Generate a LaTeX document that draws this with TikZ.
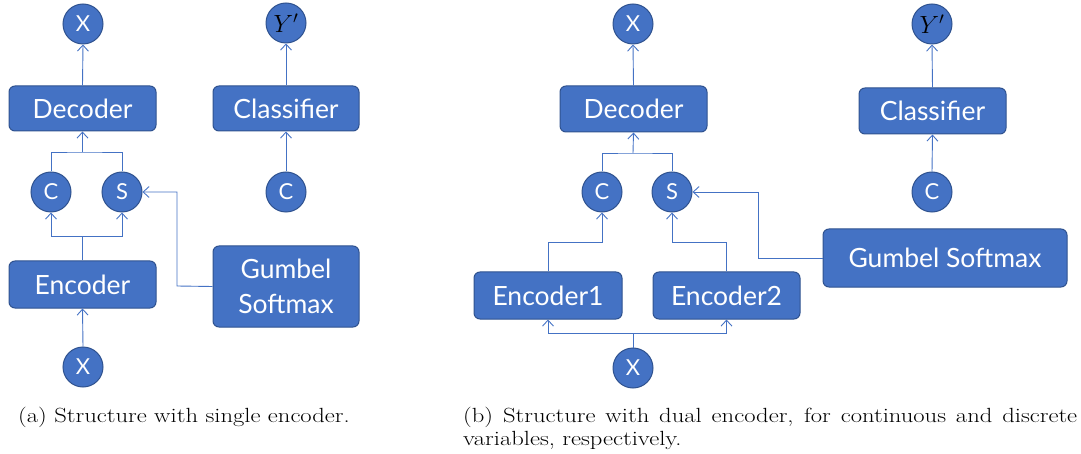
\documentclass[tikz,border=0pt]{standalone}
\usepackage{fontspec}
\newfontfamily\nodefont{Lato}
\usetikzlibrary{arrows.meta,positioning}
\definecolor{boxblue}{HTML}{4472C4}
\definecolor{boxedge}{HTML}{2F528F}
\definecolor{lineblue}{HTML}{4472C4}
\tikzset{
  box/.style={draw=boxedge,fill=boxblue,rounded corners=6pt,line width=1pt,text=white,
    font=\nodefont\fontsize{26.5}{35}\selectfont,inner sep=0pt,align=center},
  var/.style={circle,draw=boxedge,fill=boxblue,line width=1pt,minimum size=40pt,inner sep=0pt,text=white,
    font=\nodefont\fontsize{22}{24}\selectfont},
  conn/.style={draw=lineblue,line width=0.9pt},
  arr/.style={conn,-{Straight Barb[length=6pt,width=11pt,line width=0.9pt]}},
  captext/.style={font=\fontsize{20.5}{23}\selectfont,inner sep=0pt}
}
\begin{document}
\begin{tikzpicture}[x=1pt,y=-1pt]
\useasboundingbox (0,0) rectangle (1081,454);
% ---------- (a) ----------
\node[var] (xa1) at (83,24) {X};
\node[box,minimum width=147pt,minimum height=45pt] (dec1) at (82.5,108.5) {Decoder};
\node[var] (c1) at (51,192) {C};
\node[var] (s1) at (122,192) {S};
\node[box,minimum width=147pt,minimum height=47pt] (enc1) at (82.5,284.5) {Encoder};
\node[var] (xb1) at (83,367) {X};
\node[var,text=black] (y1) at (286,23) {\fontsize{27}{27}\selectfont$Y'$};
\node[box,minimum width=146pt,minimum height=45pt] (cls1) at (286,108.5) {Classifier};
\node[var] (cr1) at (286,192) {C};
\node[box,minimum width=146pt,minimum height=81pt] (gum1) at (286,286.5) {Gumbel\\Softmax};
\coordinate (j1) at (82.5,152);
\coordinate (j2) at (82.5,236);
\coordinate (g1) at (177,286);
\draw[arr] (dec1.north) -- (xa1.south);
\draw[conn] (c1.north) |- (j1) -| (s1.north);
\draw[arr] (j1) -- (dec1.south);
\draw[conn] (enc1.north) -- (j2);
\draw[arr] (j2) -| (c1.south);
\draw[arr] (j2) -| (s1.south);
\draw[arr] (xb1.north) -- (enc1.south);
\draw[arr] (gum1.west) -- (g1) |- (s1.east);
\draw[arr] (cr1.north) -- (cls1.south);
\draw[arr] (cls1.north) -- (y1.south);
\node[captext,anchor=base] (capa) at (184,422) {\scalebox{1.2}[1]{(a) Structure with single encoder.}};
% ---------- (b) ----------
\node[var] (xa2) at (633,24) {X};
\node[box,minimum width=147pt,minimum height=46pt] (dec2) at (633.5,109) {Decoder};
\node[var] (c2) at (602,192) {C};
\node[var] (s2) at (672,192) {S};
\node[box,minimum width=148pt,minimum height=47pt] (enc21) at (548,295.5) {Encoder1};
\node[box,minimum width=147pt,minimum height=47pt] (enc22) at (726.5,295.5) {Encoder2};
\node[var] (xb2) at (633,368) {X};
\node[var,text=black] (y2) at (932,24) {\fontsize{27}{27}\selectfont$Y'$};
\node[box,minimum width=147pt,minimum height=46pt] (cls2) at (932.5,111) {Classifier};
\node[var] (cr2) at (932,192) {C};
\node[box,minimum width=244pt,minimum height=58pt] (gum2) at (945,258) {Gumbel Softmax};
\coordinate (j3) at (633,153);
\coordinate (k1) at (602,242);
\coordinate (k2) at (672,242);
\coordinate (j4) at (633,333);
\coordinate (g2) at (758,258);
\draw[arr] (dec2.north) -- (xa2.south);
\draw[conn] (c2.north) |- (j3) -| (s2.north);
\draw[arr] (j3) -- (dec2.south);
\draw[arr] (enc21.north) |- (k1) -- (c2.south);
\draw[arr] (enc22.north) |- (k2) -- (s2.south);
\draw[conn] (xb2.north) -- (j4);
\draw[arr] (j4) -| (enc21.south);
\draw[arr] (j4) -| (enc22.south);
\draw[arr] (gum2.west) -- (g2) |- (s2.east);
\draw[arr] (cr2.north) -- (cls2.south);
\draw[arr] (cls2.north) -- (y2.south);
\node[captext,anchor=base west] (capb1) at (463,422) {\scalebox{1.2}[1]{\makebox[511.7pt][s]{(b) Structure with dual encoder, for continuous and discrete}}};
\node[captext,anchor=base west] (capb2) at (463,445) {\scalebox{1.2}[1]{variables, respectively.}};
\end{tikzpicture}
\end{document}
